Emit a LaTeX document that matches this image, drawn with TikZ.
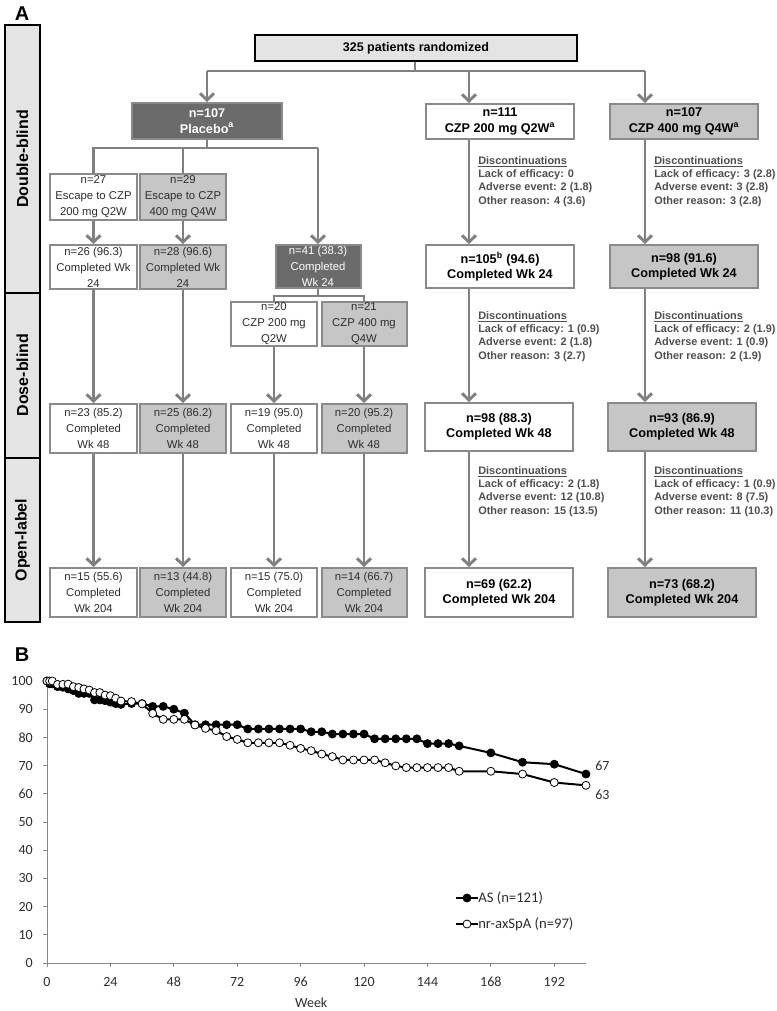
\documentclass[tikz,border=0pt]{standalone}
\usepackage{fontspec}
\setmainfont{Liberation Sans}
\newfontfamily\plotfont{Carlito}
\usepackage{tikz}
\usetikzlibrary{arrows.meta,calc,positioning}
\newcommand{\pxu}{0.75pt}
\definecolor{flow}{HTML}{808080}
\definecolor{edge}{HTML}{8A8A8A}
\definecolor{dark}{HTML}{6B6B6B}
\definecolor{dots}{HTML}{C6C6C6}
\definecolor{pale}{HTML}{E4E4E4}
\definecolor{ink}{HTML}{2E2E2E}
\definecolor{note}{HTML}{4F4F4F}
\definecolor{axisgray}{HTML}{878787}
\tikzset{
  sz/.style 2 args={minimum width=#1*\pxu,minimum height=#2*\pxu},
  link/.style={draw=flow,line width=2.2pt},
  arr/.style={link,-{Straight Barb[length=5pt,width=10.5pt]}},
  box/.style={draw=edge,line width=1.5pt,inner sep=0pt,align=center,text=ink,
    font=\fontsize{8.5}{12}\selectfont},
  whitebox/.style={box,fill=white},
  dotbox/.style={box,fill=dots},
  darkbox/.style={box,fill=dark,text=white},
  boldtxt/.style={font=\fontsize{9.5}{11.5}\selectfont\bfseries,text=black},
  randbox/.style={draw=black,line width=1.5pt,fill=pale,inner sep=0pt,
    font=\fontsize{9.4}{11}\selectfont\bfseries},
  disc/.style={anchor=north west,align=left,inner sep=0pt,text=note,
    font=\fontsize{8.2}{10}\selectfont\bfseries},
  phase/.style={draw=black,line width=2.2pt,fill=pale},
  phaselabel/.style={rotate=90,font=\fontsize{12}{12}\selectfont\bfseries},
  panel/.style={font=\fontsize{15}{15}\selectfont\bfseries},
  axisline/.style={draw=axisgray,line width=.75pt},
  ticklabel/.style={font=\plotfont\fontsize{10.5}{10.5}\selectfont,text=ink,inner sep=0pt},
  asline/.style={draw=black,line width=1.5pt,mark size=3pt},
  nrline/.style={draw=black,line width=1.5pt,mark size=3pt}
}
\begin{document}
\begin{tikzpicture}[x=0.75pt,y=-0.75pt]
  \useasboundingbox (0,0) rectangle (776,1011);
  % panel A: phases
  \node[panel] at (22,14) {A};
  \draw[phase] (5,25) rectangle (40,293);
  \draw[phase] (5,293) rectangle (40,458);
  \draw[phase] (5,458) rectangle (40,622);
  \node[phaselabel] at (22.5,159) {Double-blind};
  \node[phaselabel] at (22.5,375) {Dose-blind};
  \node[phaselabel] at (22.5,540) {Open-label};

  % randomization and arms
  \node[randbox,sz={322}{26}] (rand) at (416,48) {325 patients randomized};
  \node[darkbox,sz={150}{36},font=\fontsize{9.5}{11.5}\selectfont\bfseries] (plac) at (207,121)
    {n=107\\Placebo\textsuperscript{a}};
  \node[whitebox,boldtxt,sz={148}{35}] (czpA) at (500,121.5) {n=111\\CZP 200 mg Q2W\textsuperscript{a}};
  \node[dotbox,boldtxt,sz={148}{35}] (czpB) at (684,121.5) {n=107\\CZP 400 mg Q4W\textsuperscript{a}};

  \coordinate (split) at (415,71);
  \coordinate (colA) at (469,71);
  \coordinate (colB) at (645,71);
  \draw[link] (split |- rand.south) -- (split);
  \draw[link] (split -| plac.north) -- (colB);
  \draw[arr] (split -| plac.north) -- (plac.north);
  \draw[arr] (colA) -- (colA |- czpA.north);
  \draw[arr] (colB) -- (colB |- czpB.north);

  % placebo escape arms
  \node[whitebox,sz={87}{46}] (escA) at (93.5,197) {n=27\\Escape to CZP\\200 mg Q2W};
  \node[dotbox,sz={86}{46}] (escB) at (183,197) {n=29\\Escape to CZP\\400 mg Q4W};
  \node[whitebox,sz={87}{44}] (escA24) at (93.5,267) {n=26 (96.3)\\Completed Wk\\24};
  \node[dotbox,sz={86}{44}] (escB24) at (183,267) {n=28 (96.6)\\Completed Wk\\24};
  \node[darkbox,sz={85}{43}] (plac24) at (318,266.5) {n=41 (38.3)\\Completed\\Wk 24};
  \node[whitebox,sz={86}{44}] (swA) at (274,324) {n=20\\CZP 200 mg\\Q2W};
  \node[dotbox,sz={85}{44}] (swB) at (364,324) {n=21\\CZP 400 mg\\Q4W};

  \coordinate (pbar) at ($(plac.south)+(0,8)$);
  \draw[link] (plac.south) -- (pbar);
  \draw[link] (escA.north) -- (escA.north |- pbar) -- (plac24.north |- pbar);
  \draw[link] (escB.north) -- (escB.north |- pbar);
  \draw[arr] (plac24.north |- pbar) -- (plac24.north);
  \draw[arr] (escA) -- (escA24);
  \draw[arr] (escB) -- (escB24);
  \coordinate (qbar) at ($(plac24.south)+(0,7)$);
  \draw[link] (plac24.south) -- (qbar);
  \draw[link] (swA.north) -- (swA.north |- qbar) -- (swB.north |- qbar) -- (swB.north);

  % week 48 and week 204, placebo groups
  \node[whitebox,sz={87}{49}] (escA48) at (93.5,428.5) {n=23 (85.2)\\Completed\\Wk 48};
  \node[dotbox,sz={86}{49}] (escB48) at (183,428.5) {n=25 (86.2)\\Completed\\Wk 48};
  \node[whitebox,sz={86}{49}] (swA48) at (274,428.5) {n=19 (95.0)\\Completed\\Wk 48};
  \node[dotbox,sz={85}{49}] (swB48) at (364,428.5) {n=20 (95.2)\\Completed\\Wk 48};
  \node[whitebox,sz={87}{49}] (escA204) at (93.5,592.5) {n=15 (55.6)\\Completed\\Wk 204};
  \node[dotbox,sz={86}{49}] (escB204) at (183,592.5) {n=13 (44.8)\\Completed\\Wk 204};
  \node[whitebox,sz={86}{49}] (swA204) at (274,592.5) {n=15 (75.0)\\Completed\\Wk 204};
  \node[dotbox,sz={85}{49}] (swB204) at (364,592.5) {n=14 (66.7)\\Completed\\Wk 204};
  \draw[arr] (escA24) -- (escA48);
  \draw[arr] (escB24) -- (escB48);
  \draw[arr] (swA) -- (swA48);
  \draw[arr] (swB) -- (swB48);
  \draw[arr] (escA48) -- (escA204);
  \draw[arr] (escB48) -- (escB204);
  \draw[arr] (swA48) -- (swA204);
  \draw[arr] (swB48) -- (swB204);

  % CZP arms
  \node[whitebox,boldtxt,sz={148}{43}] (czpA24) at (500,266.5) {n=105\textsuperscript{b} (94.6)\\Completed Wk 24};
  \node[dotbox,boldtxt,sz={148}{43}] (czpB24) at (684,266.5) {n=98 (91.6)\\Completed Wk 24};
  \node[whitebox,boldtxt,sz={148}{48}] (czpA48) at (499,427) {n=98 (88.3)\\Completed Wk 48};
  \node[dotbox,boldtxt,sz={148}{48}] (czpB48) at (682,427) {n=93 (86.9)\\Completed Wk 48};
  \node[whitebox,boldtxt,sz={148}{49}] (czpA204) at (499,592.5) {n=69 (62.2)\\Completed Wk 204};
  \node[dotbox,boldtxt,sz={148}{49}] (czpB204) at (682,592.5) {n=73 (68.2)\\Completed Wk 204};
  \draw[arr] (colA |- czpA.south) -- (colA |- czpA24.north);
  \draw[arr] (colA |- czpA24.south) -- (colA |- czpA48.north);
  \draw[arr] (colA |- czpA48.south) -- (colA |- czpA204.north);
  \draw[arr] (colB |- czpB.south) -- (colB |- czpB24.north);
  \draw[arr] (colB |- czpB24.south) -- (colB |- czpB48.north);
  \draw[arr] (colB |- czpB48.south) -- (colB |- czpB204.north);

  \node[disc] (discA1) at (478,156) {\underline{Discontinuations}\\Lack of efficacy: 0\\Adverse event: 2 (1.8)\\Other reason: 4 (3.6)};
  \node[disc] (discB1) at (654,156) {\underline{Discontinuations}\\Lack of efficacy: 3 (2.8)\\Adverse event: 3 (2.8)\\Other reason: 3 (2.8)};
  \node[disc] (discA2) at (478,311) {\underline{Discontinuations}\\Lack of efficacy: 1 (0.9)\\Adverse event: 2 (1.8)\\Other reason: 3 (2.7)};
  \node[disc] (discB2) at (654,311) {\underline{Discontinuations}\\Lack of efficacy: 2 (1.9)\\Adverse event: 1 (0.9)\\Other reason: 2 (1.9)};
  \node[disc] (discA3) at (478,466) {\underline{Discontinuations}\\Lack of efficacy: 2 (1.8)\\Adverse event: 12 (10.8)\\Other reason: 15 (13.5)};
  \node[disc] (discB3) at (654,466) {\underline{Discontinuations}\\Lack of efficacy: 1 (0.9)\\Adverse event: 8 (7.5)\\Other reason: 11 (10.3)};

  % panel B
  \node[panel] at (22,655) {B};
  \begin{scope}[shift={(47,963)},x=2.642*\pxu,y=2.82*\pxu]
    \draw[axisline] (0,100) -- (0,0) -- (204,0);
    \foreach \v in {0,10,...,100} {
      \draw[axisline] (0,\v) -- (-1.5,\v);
      \node[ticklabel,anchor=east] at (-5.3,\v) {\v};
    }
    \foreach \w in {0,24,...,192} {
      \draw[axisline] (\w,0) -- (\w,-1.4);
      \node[ticklabel] at (\w,-6.7) {\w};
    }
    \node[ticklabel] at (100,-14.2) {Week};
    \draw[asline] plot[mark=*,mark options={fill=black,line width=.6pt}] coordinates {
      (0,100) (1,99) (2,99) (4,98) (6,97.8) (8,97.2) (10,96.6) (12,95.6) (14,95.6) (16,95.6)
      (18,93.3) (20,93.3) (22,93) (24,92.5) (26,92) (28,91.7) (32,92) (36,92) (40,91) (44,91)
      (48,90) (52,88.6) (56,84.5) (60,84.5) (64,84.5) (68,84.5) (72,84.5) (76,83) (80,83) (84,83)
      (88,83) (92,83) (96,83) (100,82) (104,82) (108,81.2) (112,81.2) (116,81.2) (120,81.2)
      (124,79.5) (128,79.5) (132,79.5) (136,79.5) (140,79.5) (144,77.8) (148,77.8) (152,77.8)
      (156,77) (168,74.5) (180,71.2) (192,70.5) (204,67)};
    \draw[nrline] plot[mark=*,mark options={fill=white,line width=.6pt}] coordinates {
      (0,100) (1,100) (2,100) (4,98.8) (6,98.8) (8,98.9) (10,98) (12,97.7) (14,97.2) (16,96.8)
      (18,95.9) (20,95.9) (22,95) (24,94.8) (26,93.9) (28,92.9) (32,92.7) (36,91.9) (40,88.5)
      (44,86.4) (48,86.4) (52,86.4) (56,84.4) (60,83.2) (64,82.4) (68,80.3) (72,79.3) (76,78.1)
      (80,78.1) (84,78.1) (88,78.1) (92,77.2) (96,76.1) (100,75.3) (104,74.1) (108,73.2) (112,72)
      (116,72) (120,72) (124,72) (128,71) (132,69.9) (136,69.3) (140,69.3) (144,69.3) (148,69.3)
      (152,69.3) (156,68) (168,68) (180,67) (192,64) (204,63)};
  \end{scope}
  \node[ticklabel,anchor=west] (endAS) at (595,766) {67};
  \node[ticklabel,anchor=west] (endNR) at (595,795) {63};

  % legend
  \node[ticklabel,anchor=west,font=\plotfont\fontsize{11}{11}\selectfont] (legAS) at (478,898) {AS (n=121)};
  \node[ticklabel,anchor=west,font=\plotfont\fontsize{11}{11}\selectfont] (legNR) at (478,924) {nr-axSpA (n=97)};
  \coordinate (legASs) at (456,898);
  \coordinate (legNRs) at (456,924);
  \draw[asline] (legASs) -- (legAS.west);
  \draw[nrline] (legNRs) -- (legNR.west);
  \filldraw[fill=black,draw=black,line width=.6pt] ($(legASs)!.5!(legAS.west)$) circle (3pt);
  \filldraw[fill=white,draw=black,line width=.6pt] ($(legNRs)!.5!(legNR.west)$) circle (3pt);
\end{tikzpicture}
\end{document}
